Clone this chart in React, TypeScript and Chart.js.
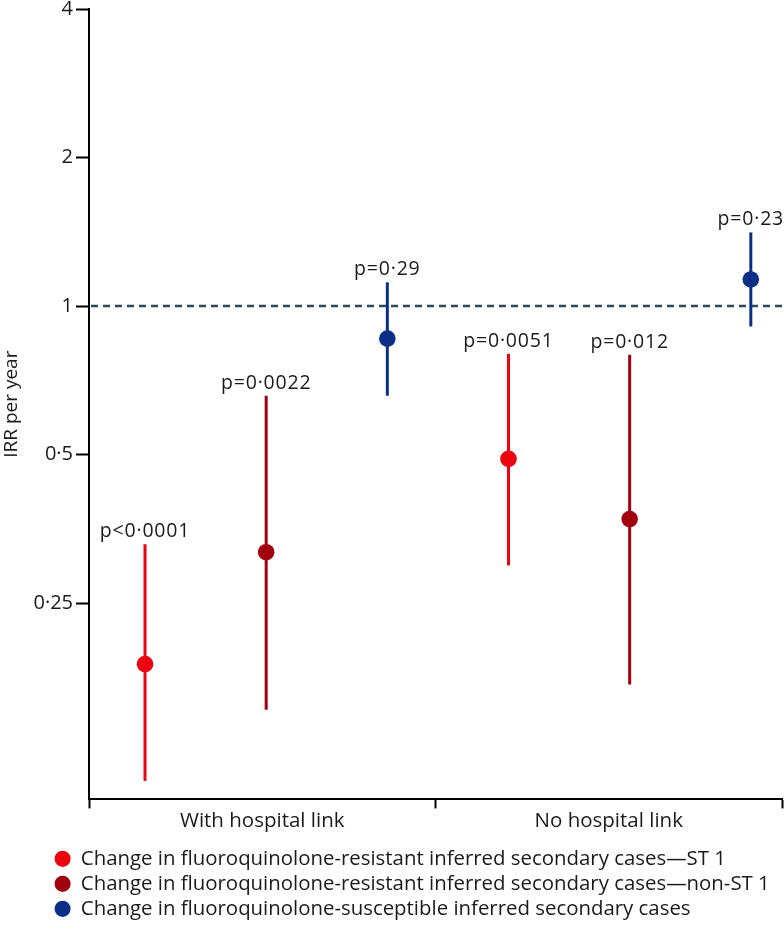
import React, { useEffect, useRef } from "react";
import { Chart, registerables } from "chart.js";

Chart.register(...registerables);

// ---------- data ----------
const groups = ["With hospital link", "No hospital link"];
const seriesNames = [
  "Change in fluoroquinolone-resistant inferred secondary cases\u2014ST 1",
  "Change in fluoroquinolone-resistant inferred secondary cases\u2014non-ST 1",
  "Change in fluoroquinolone-susceptible inferred secondary cases",
];
const seriesColors = ["#ec0410", "#a1000f", "#0b2f86"];

const irrST1 = [0.188, 0.49];
const lowST1 = [0.109, 0.298];
const highST1 = [0.329, 0.8];
const pST1 = ["p<0\u00b70001", "p=0\u00b70051"];

const irrNonST1 = [0.317, 0.37];
const lowNonST1 = [0.152, 0.171];
const highNonST1 = [0.658, 0.797];
const pNonST1 = ["p=0\u00b70022", "p=0\u00b7012"];

const irrSusc = [0.859, 1.132];
const lowSusc = [0.658, 0.909];
const highSusc = [1.117, 1.41];
const pSusc = ["p=0\u00b729", "p=0\u00b723"];

const yTicks = [0.25, 0.5, 1, 2, 4];
const refValue = 1;
const yTitle = "IRR per year";

// ---------- styling ----------
const FONT = '"Open Sans", Lato, sans-serif';
const TEXT = "#1a1a1a";

const slotX = (gi: number, si: number) => 0.485 + (gi * 3 + si) * 1.049;

const errorBars = {
  id: "errorBars",
  beforeDatasetsDraw(chart: any) {
    const { ctx, scales } = chart;
    const x = scales.x;
    const y = scales.y;
    chart.data.datasets.forEach((ds: any) => {
      ds.data.forEach((pt: any, i: number) => {
        const px = x.getPixelForValue(pt.x);
        ctx.save();
        ctx.strokeStyle = ds.backgroundColor;
        ctx.lineWidth = 3;
        ctx.beginPath();
        ctx.moveTo(px, y.getPixelForValue(ds.low[i]));
        ctx.lineTo(px, y.getPixelForValue(ds.high[i]));
        ctx.stroke();
        ctx.restore();
      });
    });
  },
};

const refLine = {
  id: "refLine",
  beforeDatasetsDraw(chart: any) {
    const { ctx, chartArea } = chart;
    const py = chart.scales.y.getPixelForValue(refValue);
    ctx.save();
    ctx.strokeStyle = "#2a4b5a";
    ctx.lineWidth = 2.5;
    ctx.setLineDash([7, 5]);
    ctx.beginPath();
    ctx.moveTo(chartArea.left + 2, py);
    ctx.lineTo(chart.width, py);
    ctx.stroke();
    ctx.restore();
  },
};

const pLabels = {
  id: "pLabels",
  afterDatasetsDraw(chart: any) {
    const { ctx } = chart;
    const x = chart.scales.x;
    const y = chart.scales.y;
    ctx.save();
    ctx.fillStyle = TEXT;
    ctx.font = `19.5px ${FONT}`;
    try {
      (ctx as any).letterSpacing = "0.8px";
    } catch (e) {}
    ctx.textAlign = "center";
    ctx.textBaseline = "alphabetic";
    chart.data.datasets.forEach((ds: any) => {
      ds.data.forEach((pt: any, i: number) => {
        const px = x.getPixelForValue(pt.x);
        const py = y.getPixelForValue(ds.high[i]);
        ctx.fillText(ds.pLabels[i], px, py - 7);
      });
    });
    ctx.restore();
  },
};

const legendPlace = {
  id: "legendPlace",
  afterLayout(chart: any) {
    const lg = chart.legend;
    if (!lg) return;
    lg.left = 50;
    lg.right = chart.width;
    const h = lg.bottom - lg.top;
    lg.top -= 7;
    lg.bottom = lg.top + h;
  },
};

export default function App() {
  const ref = useRef<HTMLCanvasElement>(null);

  useEffect(() => {
    const canvas = ref.current;
    if (!canvas) return;
    const irr = [irrST1, irrNonST1, irrSusc];
    const lows = [lowST1, lowNonST1, lowSusc];
    const highs = [highST1, highNonST1, highSusc];
    const ps = [pST1, pNonST1, pSusc];

    const datasets: any[] = seriesNames.map((name, si) => ({
      label: name,
      data: irr[si].map((v, gi) => ({ x: slotX(gi, si), y: v })),
      low: lows[si],
      high: highs[si],
      pLabels: ps[si],
      backgroundColor: seriesColors[si],
      borderColor: seriesColors[si],
      borderWidth: 0,
      pointRadius: 8.3,
      pointStyle: "circle",
      showLine: false,
    }));

    const chart = new Chart(canvas, {
      type: "scatter",
      data: { datasets },
      options: {
        responsive: false,
        animation: false,
        events: [],
        layout: { autoPadding: false, padding: { left: 0, right: 2, top: 0, bottom: 0 } },
        plugins: {
          tooltip: { enabled: false },
          legend: {
            position: "bottom",
            align: "start",
            labels: {
              usePointStyle: true,
              pointStyle: "circle",
              pointStyleWidth: 16,
              boxWidth: 11.5,
              boxHeight: 11.5,
              padding: 4.6,
              color: TEXT,
              font: { family: FONT, size: 20.4 },
            },
          },
        },
        scales: {
          x: {
            type: "linear",
            min: 0,
            max: 6,
            afterBuildTicks: (s: any) => {
              s.ticks = [0, 1.5, 3, 4.5, 6].map((v) => ({ value: v }));
            },
            afterFit: (s: any) => {
              s.height += 18;
              s.paddingLeft = 0;
              s.paddingRight = 0;
            },
            ticks: {
              autoSkip: false,
              maxRotation: 0,
              padding: 0,
              color: TEXT,
              font: { family: FONT, size: 20.5 },
              callback: (v: any) => (v === 1.5 ? groups[0] : v === 4.5 ? groups[1] : ""),
            },
            grid: {
              drawOnChartArea: false,
              drawTicks: true,
              tickLength: 9,
              tickWidth: 2,
              tickColor: (c: any) =>
                c.tick && c.tick.value % 3 === 0 ? "#000" : "rgba(0,0,0,0)",
            },
            border: { color: "#000", width: 2 },
          },
          y: {
            type: "logarithmic",
            min: 0.1,
            max: 4,
            afterBuildTicks: (s: any) => {
              s.ticks = yTicks.map((v) => ({ value: v }));
            },
            afterFit: (s: any) => {
              s.width = 89;
              s.paddingTop = 9;
              s.paddingBottom = 0;
            },
            ticks: {
              autoSkip: false,
              padding: 3,
              color: TEXT,
              font: { family: FONT, size: 20 },
              callback: (v: any) => String(v).replace(".", "\u00b7"),
            },
            grid: {
              drawOnChartArea: false,
              drawTicks: true,
              tickLength: 13,
              tickWidth: 2,
              tickColor: "#000",
            },
            border: { color: "#000", width: 2 },
            title: {
              display: true,
              text: yTitle,
              color: TEXT,
              font: { family: FONT, size: 19 },
              padding: { top: 0, bottom: 4 },
            },
          },
        },
      } as any,
      plugins: [refLine, errorBars, pLabels, legendPlace],
    });
    return () => chart.destroy();
  }, []);

  return (
    <div style={{ position: "absolute", left: 0, top: 0, width: 784, height: 936, background: "#fff" }}>
      <canvas ref={ref} width={784} height={936} style={{ display: "block" }} />
    </div>
  );
}
